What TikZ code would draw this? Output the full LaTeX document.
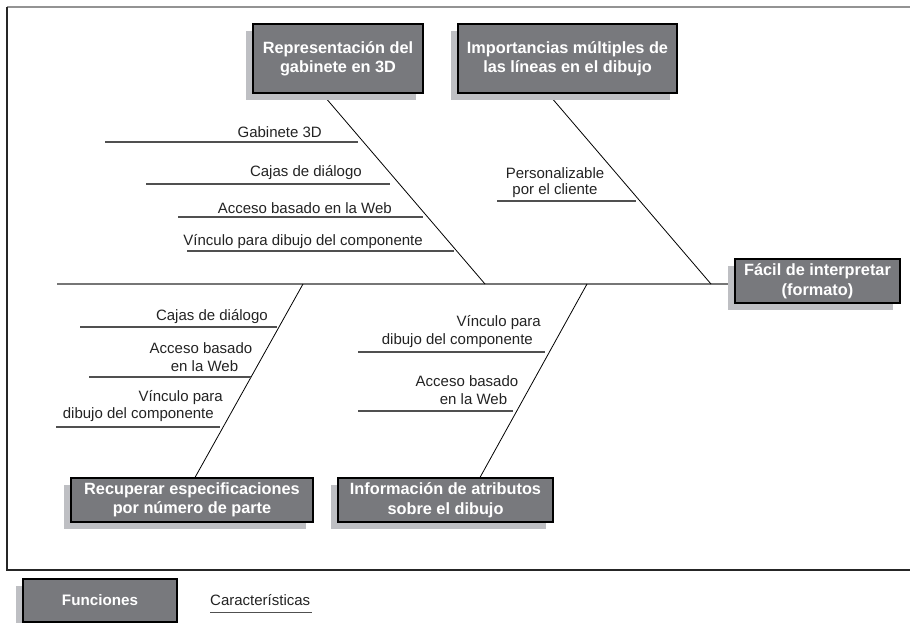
\documentclass[tikz,border=0pt]{standalone}
\usepackage{fontspec}
\setmainfont{Liberation Sans}
\usetikzlibrary{shadows,calc}
\definecolor{boxfill}{RGB}{120,121,125}
\definecolor{boxshade}{RGB}{190,191,195}
\definecolor{spinegray}{RGB}{118,118,118}
\definecolor{twiggray}{RGB}{80,80,80}
\definecolor{labelink}{RGB}{35,35,35}
\pgfdeclarelayer{back}
\pgfsetlayers{back,main}
\begin{document}
\begin{tikzpicture}[x=1pt,y=-1pt,
  causebox/.style={draw=black, line width=1.1pt, fill=boxfill, text=white,
    font=\fontsize{16.3}{19.5}\selectfont\bfseries, align=center, inner sep=0pt,
    general shadow={shadow xshift=-7pt, shadow yshift=-7pt, fill=boxshade}},
  bone/.style={line width=0.8pt, black},
  twig/.style={line width=1.4pt, twiggray},
  spine/.style={line width=2pt, spinegray},
  lbl/.style={font=\fontsize{15}{18}\selectfont, text=labelink, inner sep=0pt},
]
\useasboundingbox (0,0) rectangle (910,622);

% frame
\draw[line width=1.3pt, gray!85] (7,7) -- (910,7);
\draw[line width=1.2pt, black!85] (7,7) -- (7,570) -- (910,570);

% main categories
\node[causebox, minimum width=170pt, minimum height=69pt] (rep) at (338,58.5) {Representación del\\gabinete en 3D};
\node[causebox, minimum width=219pt, minimum height=69pt] (imp) at (567.5,58.5) {Importancias múltiples de\\las líneas en el dibujo};
\node[causebox, minimum width=165pt, minimum height=44pt] (facil) at (817.5,281) {Fácil de interpretar\\(formato)};
\node[causebox, minimum width=242pt, minimum height=44pt] (rec) at (192,500) {Recuperar especificaciones\\por número de parte};
\node[causebox, minimum width=215pt, minimum height=44pt] (info) at (445.5,500) {Información de atributos\\sobre el dibujo};

% spine and bones
\coordinate (tail) at (57,284);
\coordinate (j1) at (485,284);
\coordinate (j2) at (711,284);
\coordinate (j3) at (303,284);
\coordinate (j4) at (587,284);
\begin{pgfonlayer}{back}
  \draw[spine] (tail) -- (tail -| facil.west);
  \draw[bone] ($(rep.south)+(-16,0)$) -- (j1);
  \draw[bone] ($(imp.south)+(-19.5,0)$) -- (j2);
  \draw[bone] (j3) -- ($(rec.north)+(3,0)$);
  \draw[bone] (j4) -- ($(info.north)+(34.5,0)$);
\end{pgfonlayer}

% twigs on the upper-left bone
\draw[twig] (105,142) -- (358,142);
\draw[twig] (146,184) -- (390,184);
\draw[twig] (178,217) -- (423,217);
\draw[twig] (187,251) -- (454,251);
\node[lbl, anchor=base east] (g3d) at (322,137) {Gabinete 3D};
\node[lbl, anchor=base east] (cd1) at (362,176) {Cajas de diálogo};
\node[lbl, anchor=base east] (aw1) at (392,213) {Acceso basado en la Web};
\node[lbl, anchor=base east] (vd1) at (423,245) {Vínculo para dibujo del componente};

% twig on the upper-right bone
\draw[twig] (497,201) -- (636,201);
\node[lbl, anchor=base] (pc1) at (555,178.3) {Personalizable};
\node[lbl, anchor=base] (pc2) at (555,194.3) {por el cliente};

% twigs on the lower-left bone
\draw[twig] (80,327) -- (277,327);
\draw[twig] (89,377) -- (251,377);
\draw[twig] (56,427) -- (220,427);
\node[lbl, anchor=base east] (cd2) at (268,320.7) {Cajas de diálogo};
\node[lbl, anchor=base] (aw2a) at (201,353.3) {Acceso basado};
\node[lbl, anchor=base] (aw2b) at (204.5,371) {en la Web};
\node[lbl, anchor=base east] (vd2a) at (223,401.7) {Vínculo para};
\node[lbl, anchor=base east] (vd2b) at (214,418.3) {dibujo del componente};

% twigs on the lower-right bone
\draw[twig] (358,352) -- (545,352);
\draw[twig] (358,411) -- (513,411);
\node[lbl, anchor=base east] (vd3a) at (541,326) {Vínculo para};
\node[lbl, anchor=base east] (vd3b) at (533,344.3) {dibujo del componente};
\node[lbl, anchor=base] (aw3a) at (467,386.7) {Acceso basado};
\node[lbl, anchor=base] (aw3b) at (473.5,404.3) {en la Web};

% legend
\node[causebox, minimum width=154pt, minimum height=43pt, font=\fontsize{15.2}{18}\selectfont\bfseries] (fun) at (100,600.5) {Funciones};
\node[lbl, anchor=base west] (car) at (210,605.7) {Características};
\draw[twig, line width=1.2pt] (car.base west |- 0,612.3) -- (312,612.3);
\end{tikzpicture}
\end{document}
